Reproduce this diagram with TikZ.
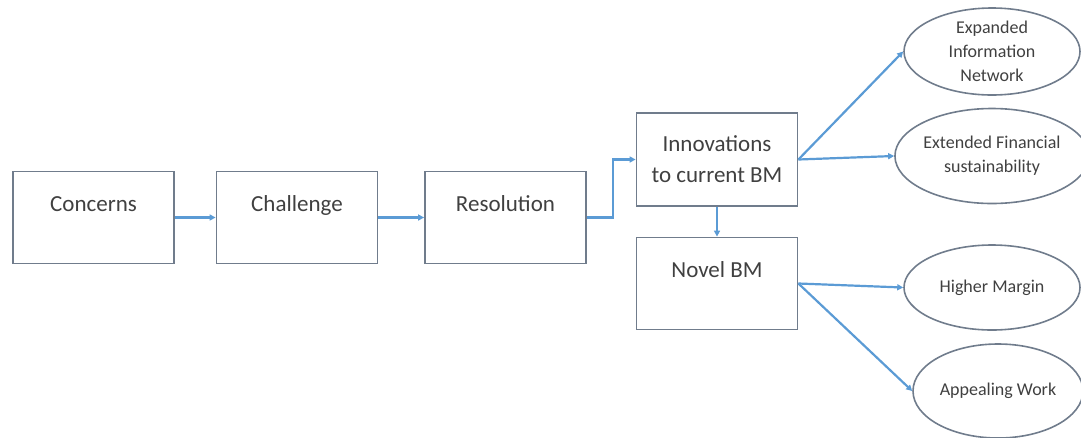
\documentclass[tikz,border=0pt]{standalone}
\usepackage{fontspec}
\setmainfont{Carlito}
\usetikzlibrary{arrows.meta,shapes.geometric}
\definecolor{boxgray}{RGB}{112,124,140}
\definecolor{linkblue}{RGB}{91,155,213}
\definecolor{textgray}{RGB}{64,64,64}

\begin{document}
\begin{tikzpicture}[x=1pt, y=-1pt,
    every node/.style={text=textgray},
    bmbox/.style={draw=boxgray, line width=1.8pt, minimum width=161pt, minimum height=92pt,
        inner sep=0pt, align=center, font=\fontsize{23}{31}\selectfont},
    topbox/.style={bmbox, text height=40pt, text depth=52pt},
    outcome/.style={ellipse, draw=boxgray, line width=1.6pt, inner sep=0pt, align=center,
        font=\fontsize{18}{24}\selectfont},
    link/.style={draw=linkblue, line width=2.2pt, -{Triangle[length=6pt,width=6pt]}}]

\useasboundingbox (0,0) rectangle (1081,437);

% Chain of boxes
\node[topbox] (concerns) at (93.5, 217.5) {Concerns};
\node[topbox] (challenge) at (297, 217.5) {Challenge};
\node[topbox] (resolution) at (505.5, 217.5) {Resolution};
\node[bmbox, minimum height=93pt] (innovations) at (717, 159.5) {Innovations\\to current BM};
\node[topbox] (novel) at (717, 283.5) {Novel BM};

% Outcomes
\node[outcome, minimum width=176pt, minimum height=87pt] (expanded) at (992, 51.5) {Expanded\\Information\\Network};
\node[outcome, minimum width=176pt, minimum height=95pt] (financial) at (992, 156) {Extended Financial\\sustainability};
\node[outcome, minimum width=176pt, minimum height=85pt] (higher) at (992, 287.5) {Higher Margin};
\node[outcome, minimum width=170pt, minimum height=94pt] (appealing) at (998, 391) {Appealing Work};

% Connectors
\draw[link] (concerns) -- (challenge);
\draw[link] (challenge) -- (resolution);
\draw[link] (resolution.east) -- ++(26,0) |- (innovations.west);
\draw[link] (innovations) -- (novel);
\draw[link] (innovations.east) -- (expanded.west);
\draw[link] (innovations.east) -- (financial.west);
\draw[link] (novel.east) -- (higher.west);
\draw[link] (novel.east) -- (appealing.west);

\end{tikzpicture}
\end{document}
